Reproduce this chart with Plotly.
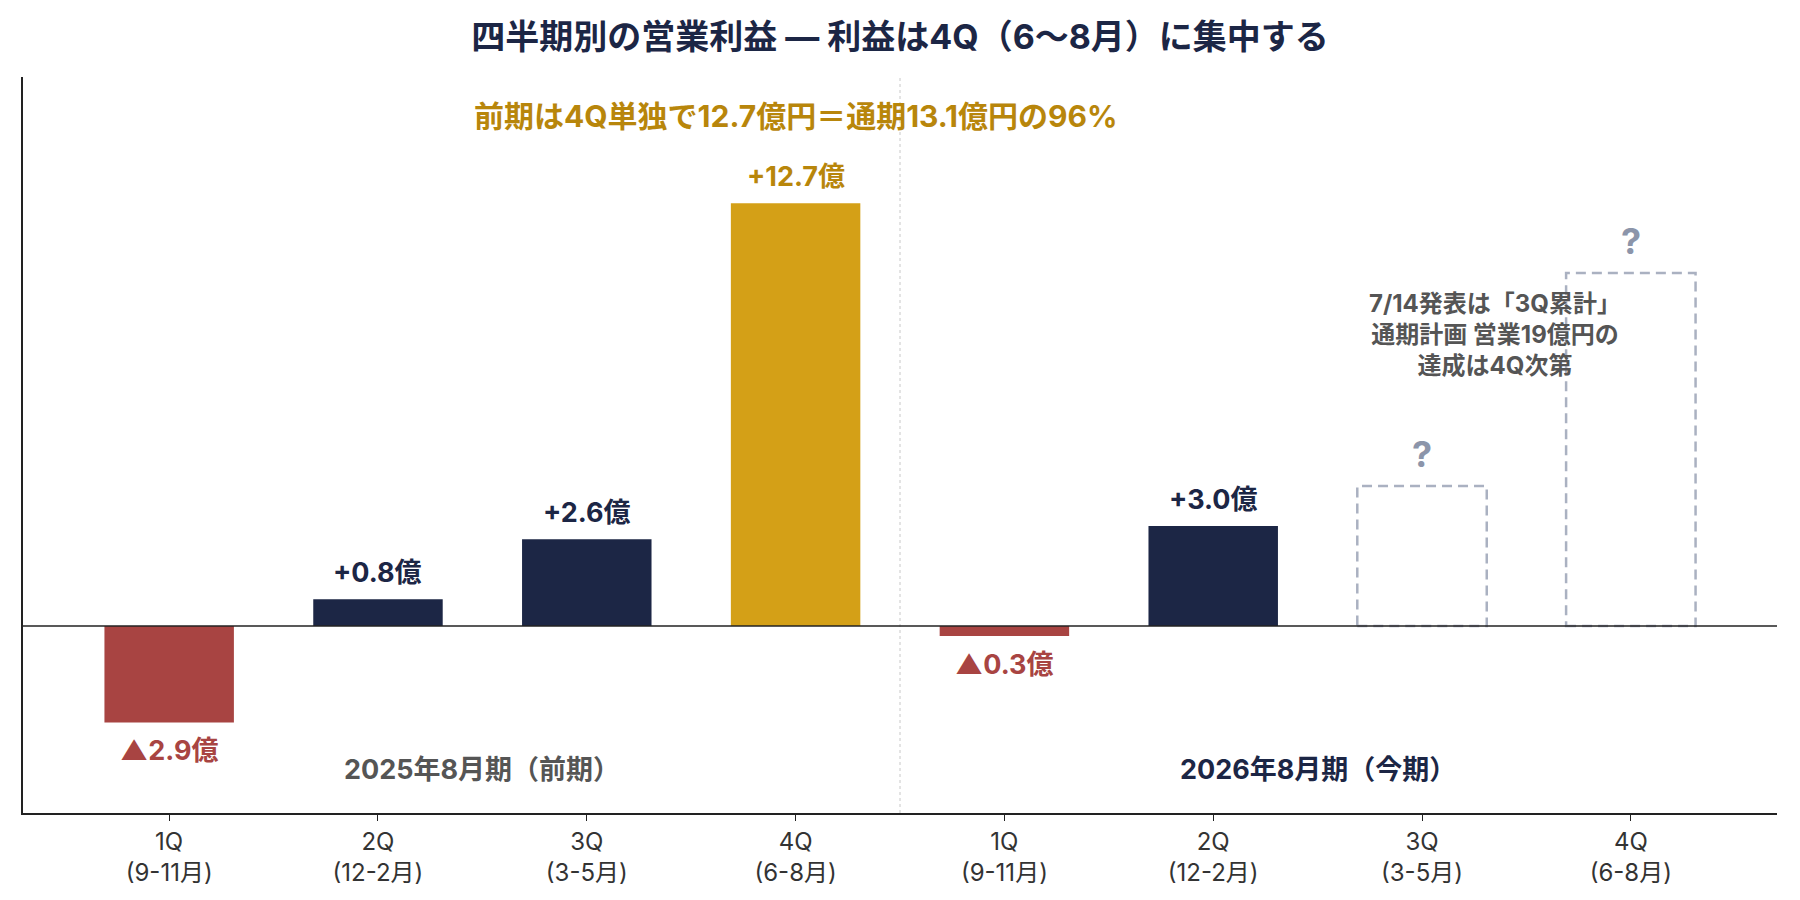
import plotly.graph_objects as go

# ---- data ----
quarters = ["1Q<br>(9-11月)", "2Q<br>(12-2月)", "3Q<br>(3-5月)", "4Q<br>(6-8月)",
            "1Q<br>(9-11月)", "2Q<br>(12-2月)", "3Q<br>(3-5月)", "4Q<br>(6-8月)"]
actual_idx = [0, 1, 2, 3, 4, 5]
actual_vals = [-2.9, 0.8, 2.6, 12.7, -0.3, 3.0]
actual_labels = ["▲2.9億", "+0.8億", "+2.6億", "+12.7億", "▲0.3億", "+3.0億"]
pending_idx = [6, 7]
pending_vals = [4.2, 10.6]   # illustrative placeholder heights
period_labels = ["2025年8月期（前期）", "2026年8月期（今期）"]
period_pos = [1.5, 5.5]
note_lines = ["7/14発表は「3Q累計」", "通期計画 営業19億円の", "達成は4Q次第"]

NAVY = "#1c2645"
RED = "#a84442"
GOLD = "#d4a017"
GOLD_TXT = "#b8860b"
GRAY_BOX = "#aab1c1"
GRAY_Q = "#8c95aa"
FONT = "Inter, Noto Sans CJK JP"

def bar_color(i, v):
    if v < 0:
        return RED
    if i == 3:
        return GOLD
    return NAVY

colors = [bar_color(i, v) for i, v in zip(actual_idx, actual_vals)]
label_colors = []
for i, v in zip(actual_idx, actual_vals):
    if v < 0:
        label_colors.append(RED)
    elif i == 3:
        label_colors.append(GOLD_TXT)
    else:
        label_colors.append(NAVY)

BW = 0.62

fig = go.Figure()
fig.add_trace(go.Bar(x=actual_idx, y=actual_vals, width=BW,
                     marker=dict(color=colors, line=dict(width=0)),
                     hoverinfo="skip", showlegend=False))

annotations = []
for i, v, t, c in zip(actual_idx, actual_vals, actual_labels, label_colors):
    annotations.append(dict(x=i, y=v, xref="x", yref="y", text=t, showarrow=False,
                            yanchor="bottom" if v >= 0 else "top",
                            yshift=8 if v >= 0 else -10,
                            font=dict(family=FONT, size=27, color=c, weight="bold")))

shapes = []
for i, v in zip(pending_idx, pending_vals):
    shapes.append(dict(type="rect", xref="x", yref="y", x0=i - BW / 2, x1=i + BW / 2,
                       y0=0, y1=v, line=dict(color=GRAY_BOX, width=2.5, dash="10px,6px"),
                       fillcolor="rgba(0,0,0,0)", layer="above"))
    annotations.append(dict(x=i, y=v, xref="x", yref="y", text="?", showarrow=False,
                            yanchor="bottom", yshift=8,
                            font=dict(family=FONT, size=36, color=GRAY_Q, weight="bold")))

# divider between fiscal years
shapes.append(dict(type="line", xref="x", yref="paper", x0=3.5, x1=3.5, y0=0, y1=1,
                   line=dict(color="#c8c8c8", width=1, dash="dot"), layer="below"))
# zero line
shapes.append(dict(type="line", xref="paper", yref="y", x0=0, x1=1, y0=0, y1=0,
                   line=dict(color="#222222", width=1.5)))

for p, t, c in zip(period_pos, period_labels, ["#555555", NAVY]):
    annotations.append(dict(x=p, y=-4.3, xref="x", yref="y", text=t, showarrow=False,
                            font=dict(family=FONT, size=27, color=c, weight="bold")))

annotations.append(dict(x=3, y=15.33, xref="x", yref="y",
                        text="前期は4Q単独で12.7億円＝通期13.1億円の96%", showarrow=False,
                        font=dict(family=FONT, size=30, color=GOLD_TXT, weight="bold")))
annotations.append(dict(x=6.35, y=8.76, xref="x", yref="y",
                        text="<br>".join(note_lines), showarrow=False, align="center",
                        font=dict(family=FONT, size=24, color="#555555", weight="bold")))

fig.update_layout(
    width=1800, height=900,
    paper_bgcolor="white", plot_bgcolor="white",
    margin=dict(l=23, r=23, t=77, b=87),
    title=dict(text="四半期別の営業利益 ― 利益は4Q（6〜8月）に集中する",
               x=0.5, xanchor="center", y=0.959, yanchor="middle",
               font=dict(family=FONT, size=34, color=NAVY, weight="bold")),
    xaxis=dict(range=[-0.7, 7.7], tickmode="array", tickvals=list(range(8)),
               ticktext=quarters, showgrid=False, zeroline=False,
               showline=True, linecolor="#222222", linewidth=1.5,
               ticks="outside", ticklen=6, tickcolor="#222222",
               tickfont=dict(family=FONT, size=24, color="#333333")),
    yaxis=dict(range=[-5.62, 16.49], showgrid=False, zeroline=False,
               showticklabels=False, showline=True, linecolor="#222222", linewidth=1.5),
    shapes=shapes, annotations=annotations,
    bargap=0.38,
)

fig.write_html("out.html")
